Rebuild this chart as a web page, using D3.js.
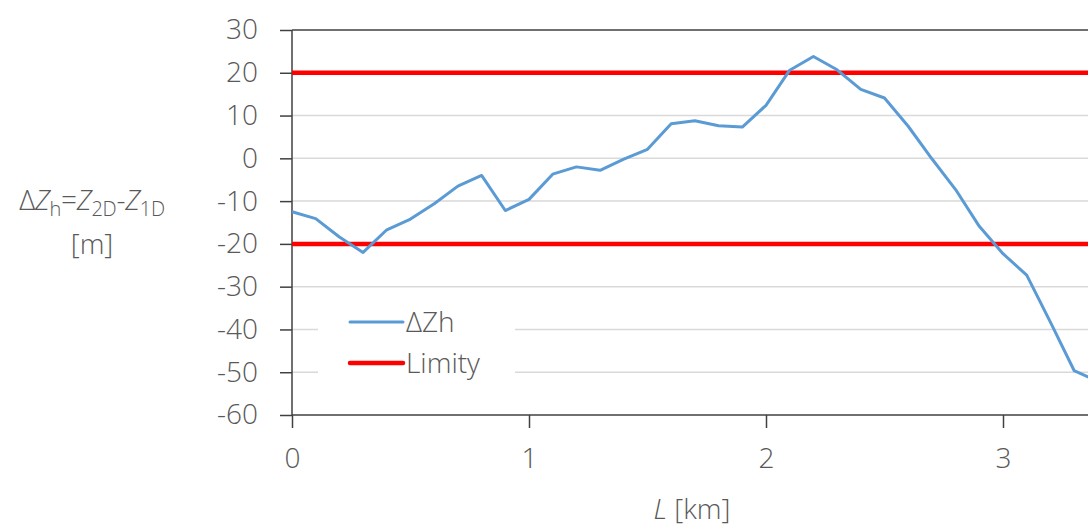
<!DOCTYPE html>
<html><head><meta charset="utf-8">
<script src="https://cdn.jsdelivr.net/npm/d3@7"></script>
<style>
html,body{margin:0;padding:0;background:#fff;overflow:hidden}
text{font-family:"Open Sans",sans-serif;fill:#595959}
</style></head>
<body>
<svg id="c" width="1088" height="528"></svg>
<script>
const distances = [0,0.1,0.2,0.3,0.4,0.5,0.6,0.7,0.8,0.9,1.0,1.1,1.2,1.3,1.4,1.5,1.6,1.7,1.8,1.9,2.0,2.1,2.2,2.3,2.4,2.5,2.6,2.7,2.8,2.9,3.0,3.1,3.2,3.3,3.4];
const deltaZh = [-12.5,-14.1,-18.4,-22.0,-16.7,-14.2,-10.6,-6.5,-4.0,-12.2,-9.6,-3.7,-2.0,-2.8,-0.2,2.1,8.1,8.8,7.6,7.3,12.4,20.6,23.8,20.7,16.1,14.1,7.5,-0.1,-7.3,-15.9,-22.3,-27.3,-38.3,-49.6,-52.1];
const limits = [20,-20];
const yTicks = [30,20,10,0,-10,-20,-30,-40,-50,-60];
const xTicks = [0,1,2,3];
const seriesNames = ["\u0394Zh","Limity"];

const svg = d3.select("#c");
const x = d3.scaleLinear().domain([0,3.4]).range([292,292+3.4*237]);
const y = d3.scaleLinear().domain([-60,30]).range([415,30]);
const xMax = 1088;
const fmt = d => String(d);

// gridlines
svg.append("g").selectAll("line").data(yTicks.filter(v=>v!==30 && v!==-60)).join("line")
  .attr("x1",292).attr("x2",xMax).attr("y1",d=>y(d)).attr("y2",d=>y(d))
  .attr("stroke","#d9d9d9").attr("stroke-width",1.5);

// top border
svg.append("line").attr("x1",292).attr("x2",xMax).attr("y1",y(30)).attr("y2",y(30))
  .attr("stroke","#404040").attr("stroke-width",1.5);

// y axis
const yAxis = d3.axisLeft(y).tickValues(yTicks).tickSize(12).tickPadding(22).tickFormat(fmt);
const gy = svg.append("g").attr("transform","translate(292,0)").call(yAxis);
gy.select(".domain").remove();
gy.selectAll(".tick line").attr("stroke","#404040").attr("stroke-width",1.5);
gy.selectAll(".tick text").attr("font-size",28).attr("font-family","Open Sans").attr("fill","#595959").attr("font-weight",300);
gy.append("line").attr("x1",0).attr("x2",0).attr("y1",30).attr("y2",415).attr("stroke","#404040").attr("stroke-width",1.5);

// x axis
const xAxis = d3.axisBottom(x).tickValues(xTicks).tickSize(13).tickPadding(20).tickFormat(fmt);
const gx = svg.append("g").attr("transform","translate(0,415)").call(xAxis);
gx.select(".domain").remove();
gx.selectAll(".tick line").attr("stroke","#404040").attr("stroke-width",1.5);
gx.selectAll(".tick text").attr("font-size",28).attr("font-family","Open Sans").attr("fill","#595959").attr("font-weight",300);
gx.append("line").attr("x1",292).attr("x2",xMax).attr("y1",0).attr("y2",0).attr("stroke","#404040").attr("stroke-width",1.5);

// limits
svg.append("g").selectAll("line").data(limits).join("line")
  .attr("x1",292).attr("x2",xMax).attr("y1",d=>y(d)).attr("y2",d=>y(d))
  .attr("stroke","#ff0000").attr("stroke-width",4.5);

// data line
const line = d3.line().x((d,i)=>x(distances[i])).y(d=>y(d));
svg.append("path").datum(deltaZh).attr("d",line)
  .attr("fill","none").attr("stroke","#5b9bd5").attr("stroke-width",3).attr("stroke-linejoin","round");

// legend
const lg = svg.append("g");
lg.append("rect").attr("x",318).attr("y",300).attr("width",197).attr("height",85).attr("fill","#fff");
const lcolors = ["#5b9bd5","#ff0000"], lw=[3,4.5], ly=[322,363];
seriesNames.forEach((n,i)=>{
  lg.append("line").attr("x1",350).attr("x2",403).attr("y1",ly[i]).attr("y2",ly[i])
    .attr("stroke",lcolors[i]).attr("stroke-width",lw[i]).attr("stroke-linecap","round");
  lg.append("text").attr("x",406).attr("y",ly[i]).attr("dy","0.35em")
    .attr("font-size",28).attr("font-weight",300).text(n);
});

// axis titles
const xt = svg.append("text").attr("x",692).attr("y",509).attr("dy","0.35em").attr("text-anchor","middle")
  .attr("font-size",28).attr("font-weight",300);
xt.append("tspan").attr("font-style","italic").text("L");
xt.append("tspan").text(" [km]");

const yt = svg.append("text").attr("x",92).attr("y",200).attr("dy","0.35em").attr("text-anchor","middle")
  .attr("font-size",28).attr("font-weight",300).attr("letter-spacing",-0.3);
yt.append("tspan").text("\u0394");
yt.append("tspan").attr("font-style","italic").text("Z");
yt.append("tspan").attr("font-size",20).attr("dy",6).text("h");
yt.append("tspan").attr("dy",-6).text("=");
yt.append("tspan").attr("font-style","italic").text("Z");
yt.append("tspan").attr("font-size",20).attr("dy",6).text("2D");
yt.append("tspan").attr("dy",-6).text("-");
yt.append("tspan").attr("font-style","italic").text("Z");
yt.append("tspan").attr("font-size",20).attr("dy",6).text("1D");
svg.append("text").attr("x",92).attr("y",244).attr("dy","0.35em").attr("text-anchor","middle")
  .attr("font-size",28).attr("font-weight",300).text("[m]");
</script>
</body></html>
